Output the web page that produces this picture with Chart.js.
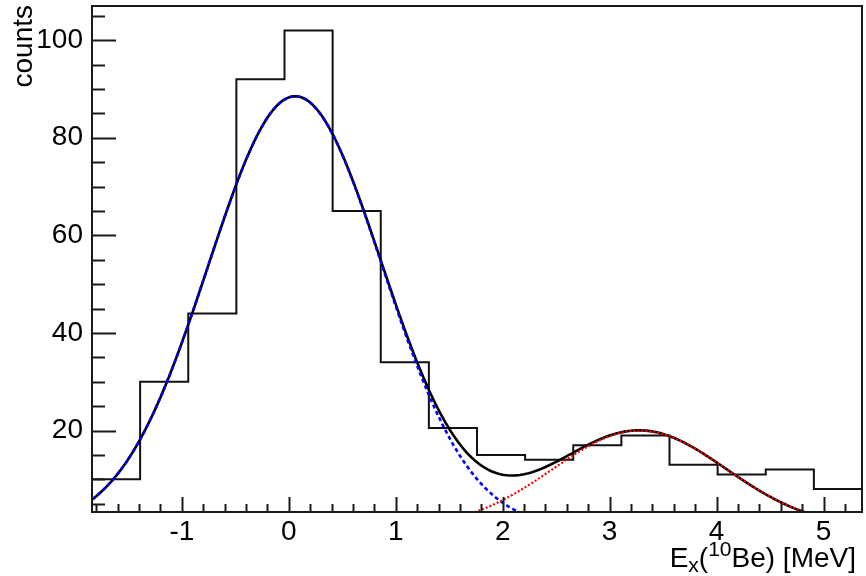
<!DOCTYPE html>
<html>
<head>
<meta charset="utf-8">
<script src="https://cdn.jsdelivr.net/npm/chart.js@4/dist/chart.umd.min.js"></script>
<style>
  html, body { margin: 0; padding: 0; background: #fff; }
  #wrap { width: 866px; height: 576px; }
</style>
</head>
<body>
<div id="wrap"><canvas id="c" width="866" height="576"></canvas></div>
<script>
// Ex(10Be) excitation-energy spectrum, 0.45 MeV bins
const binEdges = [-1.84, -1.39, -0.94, -0.49, -0.04, 0.41, 0.86, 1.31, 1.76,
                  2.21, 2.66, 3.11, 3.56, 4.01, 4.46, 4.91, 5.36];
const binCounts = [10, 30, 44, 92, 102, 65, 34, 20.5, 15, 14, 17, 19, 13, 11, 12, 8];

// Two-Gaussian fit: ground state (blue) and excited state (red)
const fitAmplitude = [88.5, 20.0];
const fitMean = [0.06, 3.28];
const fitSigma = [0.815, 0.81];

const xTickValues = [-1, 0, 1, 2, 3, 4, 5];
const yTickValues = [20, 40, 60, 80, 100];
const xRange = [-1.84, 5.36];
const yRange = [3.3, 107];

const FONT = '"Liberation Sans", Arial, Helvetica, sans-serif';

function gauss(k, x) {
  const u = (x - fitMean[k]) / fitSigma[k];
  return fitAmplitude[k] * Math.exp(-0.5 * u * u);
}

// evaluate the fit functions across the axis range
const nSamples = 360;
const fitX = [];
for (let i = 0; i <= nSamples; i++) fitX.push(xRange[0] + i * (xRange[1] - xRange[0]) / nSamples);
const curveG1 = fitX.map(x => ({ x, y: gauss(0, x) }));
const curveG2 = fitX.map(x => ({ x, y: gauss(1, x) }));
const curveSum = fitX.map(x => ({ x, y: gauss(0, x) + gauss(1, x) }));

// histogram outline: one point per bin edge, last bin repeated on the closing edge
const histPoints = binEdges.map((e, i) => ({ x: e, y: binCounts[Math.min(i, binCounts.length - 1)] }));

// frame, inward ticks and axis titles in the ROOT style
const rootFrame = {
  id: 'rootFrame',
  afterDraw(chart) {
    const ctx = chart.ctx;
    const { left, right, top, bottom } = chart.chartArea;
    const xs = chart.scales.x, ys = chart.scales.y;
    ctx.save();
    ctx.strokeStyle = '#1a1a1a';
    ctx.lineWidth = 2;
    ctx.strokeRect(left, top, right - left, bottom - top);

    ctx.beginPath();
    // y ticks: major every 20, minor every 5
    for (let v = 5; v <= yRange[1]; v += 5) {
      if (v < yRange[0]) continue;
      const py = Math.round(ys.getPixelForValue(v)) + 0.5;
      const len = (v % 20 === 0) ? 24 : 13;
      ctx.moveTo(left, py);
      ctx.lineTo(left + len, py);
    }
    // x ticks: major every 1, minor every 0.2
    for (let i = -9; i <= 26; i++) {
      const v = i * 0.2;
      if (v < xRange[0] || v > xRange[1]) continue;
      const px = Math.round(xs.getPixelForValue(v)) + 0.5;
      const len = (i % 5 === 0) ? 15 : 8;
      ctx.moveTo(px, bottom);
      ctx.lineTo(px, bottom - len);
    }
    ctx.stroke();

    // y title, aligned to the top of the axis
    ctx.fillStyle = '#000';
    ctx.save();
    ctx.translate(32, top - 1);
    ctx.rotate(-Math.PI / 2);
    ctx.font = '28px ' + FONT;
    ctx.textAlign = 'right';
    ctx.textBaseline = 'alphabetic';
    ctx.fillText('counts', 0, 0);
    ctx.restore();

    // x title with subscript and superscript, aligned to the right end
    const big = '28px ' + FONT, small = '21px ' + FONT;
    const parts = [
      { t: 'E', f: big, dy: 0 },
      { t: 'x', f: small, dy: 5 },
      { t: '(', f: big, dy: 0 },
      { t: '10', f: small, dy: -11 },
      { t: 'Be) [MeV]', f: big, dy: 0 }
    ];
    let total = 0;
    parts.forEach(p => { ctx.font = p.f; p.w = ctx.measureText(p.t).width; total += p.w; });
    let cx = 856 - total;
    const base = 567;
    ctx.textAlign = 'left';
    ctx.textBaseline = 'alphabetic';
    parts.forEach(p => { ctx.font = p.f; ctx.fillText(p.t, cx, base + p.dy); cx += p.w; });
    ctx.restore();
  }
};

new Chart(document.getElementById('c'), {
  type: 'line',
  data: {
    datasets: [
      { label: 'excited state', data: curveG2, borderColor: '#ff0000', borderWidth: 2.2,
        borderDash: [2, 2], pointRadius: 0, tension: 0, clip: 0 },
      { label: 'ground state', data: curveG1, borderColor: '#0000ff', borderWidth: 2.6,
        borderDash: [4, 3], pointRadius: 0, tension: 0, clip: 0 },
      { label: 'total fit', data: curveSum, borderColor: '#000000', borderWidth: 2.6,
        pointRadius: 0, tension: 0, clip: 0 },
      { label: 'counts', data: histPoints, borderColor: '#111111', borderWidth: 2,
        stepped: true, pointRadius: 0, clip: 0 }
    ]
  },
  options: {
    responsive: false,
    animation: false,
    devicePixelRatio: 1,
    layout: { padding: { top: 6, right: 4, left: 0, bottom: 0 } },
    plugins: { legend: { display: false }, tooltip: { enabled: false } },
    scales: {
      x: {
        type: 'linear',
        min: xRange[0], max: xRange[1],
        afterBuildTicks: s => { s.ticks = xTickValues.map(v => ({ value: v })); },
        afterFit: s => { s.height = 64; s.paddingLeft = 0; s.paddingRight = 0; },
        grid: { display: false, drawTicks: false },
        border: { display: false },
        ticks: { color: '#000', font: { family: FONT, size: 28 }, padding: 3,
                 maxRotation: 0, autoSkip: false }
      },
      y: {
        type: 'linear',
        min: yRange[0], max: yRange[1],
        afterBuildTicks: s => { s.ticks = yTickValues.map(v => ({ value: v })); },
        afterFit: s => { s.width = 92; s.paddingTop = 0; s.paddingBottom = 0; },
        grid: { display: false, drawTicks: false },
        border: { display: false },
        ticks: { color: '#000', font: { family: FONT, size: 28 }, padding: 9 }
      }
    }
  },
  plugins: [rootFrame]
});
</script>
</body>
</html>
